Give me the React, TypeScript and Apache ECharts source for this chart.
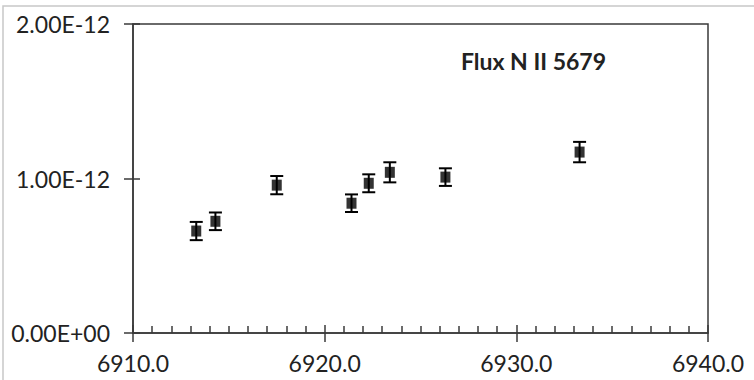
import React, { useEffect, useRef } from "react";
import * as echarts from "echarts";

// Wavelength (x) and flux (y) of the N II 5679 line, with errors
const wavelengths = [6913.3, 6914.3, 6917.5, 6921.4, 6922.3, 6923.4, 6926.3, 6933.3];
const fluxValues = [6.6e-13, 7.23e-13, 9.57e-13, 8.4e-13, 9.69e-13, 1.04e-12, 1.009e-12, 1.171e-12];
const fluxErrors = [5.9e-14, 5.7e-14, 5.9e-14, 5.7e-14, 5.8e-14, 6.5e-14, 5.7e-14, 6.6e-14];
const chartTitle = "Flux N II 5679";
const xRange = [6910, 6940];
const yRange = [0, 2e-12];

function sci(v: number): string {
  if (v === 0) return "0.00E+00";
  const exp = Math.floor(Math.log10(Math.abs(v)) + 1e-9);
  const mant = v / Math.pow(10, exp);
  const sign = exp < 0 ? "-" : "+";
  return mant.toFixed(2) + "E" + sign + String(Math.abs(exp)).padStart(2, "0");
}

const FONT = "Lato";
const TEXT = "#222222";
const AXIS = "#3a3a3a";

export default function App() {
  const ref = useRef<HTMLDivElement>(null);
  useEffect(() => {
    if (!ref.current) return;
    const chart = echarts.init(ref.current, null, { renderer: "svg" });
    const pts = wavelengths.map((x, i) => [x, fluxValues[i]]);
    const errs = wavelengths.map((x, i) => [x, fluxValues[i], fluxErrors[i]]);
    const lineStyle = { color: AXIS, width: 1.5 };
    chart.setOption({
      animation: false,
      backgroundColor: "#ffffff",
      grid: {
        left: 133,
        right: 46,
        top: 24,
        bottom: 47,
        show: true,
        borderColor: AXIS,
        borderWidth: 1.5,
        containLabel: false,
      },
      graphic: [
        {
          type: "rect",
          shape: { x: 3, y: 6, width: 800, height: 400 },
          style: { fill: "none", stroke: "#c8c8c8", lineWidth: 1.5 },
          silent: true,
        },
        {
          type: "text",
          x: 461,
          y: 61,
          style: {
            text: chartTitle,
            font: `bold 23px ${FONT}`,
            fill: TEXT,
            verticalAlign: "middle",
            align: "left",
          },
        },
      ],
      xAxis: [
        {
          type: "value",
          min: xRange[0],
          max: xRange[1],
          interval: 10,
          position: "bottom",
          axisLine: { show: true, onZero: false, lineStyle },
          axisTick: { show: true, inside: false, length: 9, lineStyle },
          axisLabel: {
            formatter: (v: number) => v.toFixed(1),
            fontFamily: FONT,
            fontSize: 23,
            color: TEXT,
            margin: 18,
          },
          splitLine: { show: false },
        },
        {
          type: "value",
          min: xRange[0],
          max: xRange[1],
          interval: 10,
          position: "bottom",
          offset: 0,
          axisLine: { show: false, onZero: false },
          axisTick: { show: true, inside: true, length: 8, lineStyle },
          minorTick: { show: true, splitNumber: 10, length: 7, lineStyle },
          axisLabel: { show: false },
          splitLine: { show: false },
        },
      ],
      yAxis: [
        {
          type: "value",
          min: yRange[0],
          max: yRange[1],
          interval: 1e-12,
          position: "left",
          axisLine: { show: true, onZero: false, lineStyle },
          axisTick: { show: true, inside: false, length: 9, lineStyle },
          axisLabel: {
            formatter: (v: number) => sci(v),
            fontFamily: FONT,
            fontSize: 23,
            color: TEXT,
            margin: 23,
          },
          splitLine: { show: false },
        },
        {
          type: "value",
          min: yRange[0],
          max: yRange[1],
          interval: 1e-12,
          position: "left",
          offset: 0,
          axisLine: { show: false, onZero: false },
          axisTick: { show: true, inside: true, length: 7, lineStyle },
          axisLabel: { show: false },
          splitLine: { show: false },
        },
      ],
      series: [
        {
          type: "custom",
          xAxisIndex: 0,
          yAxisIndex: 0,
          data: errs,
          renderItem: (params: any, api: any) => {
            const x = api.value(0);
            const y = api.value(1);
            const e = api.value(2);
            const top = api.coord([x, y + e]);
            const bot = api.coord([x, y - e]);
            const hw = 6.5;
            const style = { stroke: "#000000", lineWidth: 2 };
            return {
              type: "group",
              children: [
                { type: "line", shape: { x1: top[0], y1: top[1], x2: bot[0], y2: bot[1] }, style },
                { type: "line", shape: { x1: top[0] - hw, y1: top[1], x2: top[0] + hw, y2: top[1] }, style },
                { type: "line", shape: { x1: bot[0] - hw, y1: bot[1], x2: bot[0] + hw, y2: bot[1] }, style },
              ],
            };
          },
        },
        {
          type: "scatter",
          xAxisIndex: 0,
          yAxisIndex: 0,
          symbol: "rect",
          symbolSize: [10, 11],
          itemStyle: { color: "#000000" },
          data: pts,
        },
      ],
    });
    return () => chart.dispose();
  }, []);
  return (
    <div
      ref={ref}
      style={{ position: "fixed", left: 0, top: 0, width: 754, height: 380, background: "#fff" }}
    />
  );
}
